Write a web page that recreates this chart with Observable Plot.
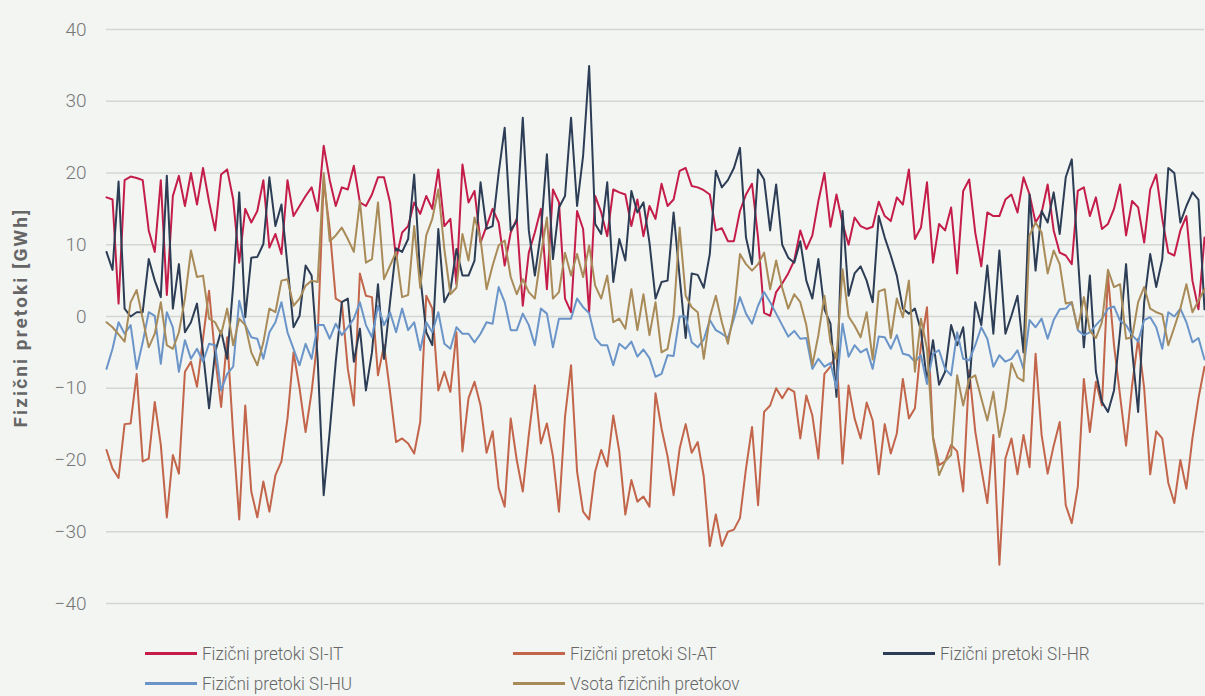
<!DOCTYPE html>
<html>
<head>
<meta charset="utf-8">
<script src="https://cdn.jsdelivr.net/npm/d3@7"></script>
<script src="https://cdn.jsdelivr.net/npm/@observablehq/plot@0.6"></script>
<style>
  html, body { margin: 0; padding: 0; background: #f2f5f2; }
  body { width: 1205px; height: 696px; overflow: hidden; font-family: Roboto, "Noto Sans", sans-serif; }
  #chart svg { display: block; }
  #chart g[aria-label="text"] text { letter-spacing: 2.1px; }
  #legend { display: grid; grid-template-columns: 368px 370px 300px; padding-left: 145px; row-gap: 5px; margin-top: 16px; }
  .item { display: flex; align-items: center; height: 25px; font-size: 19px; font-weight: 300; color: #666; white-space: nowrap; }
  .sw { display: inline-block; flex: none; width: 52px; height: 3px; margin-right: 5px; }
  .lt { display: inline-block; transform: scaleX(0.9); transform-origin: left center; }
</style>
</head>
<body>
<div id="chart"></div>
<div id="legend"></div>
<script>
// Tick labels
const yTicks = [-40, -30, -20, -10, 0, 10, 20, 30, 40];

// Series names and colours
const seriesNames = ["Fizični pretoki SI-IT", "Fizični pretoki SI-AT", "Fizični pretoki SI-HR", "Fizični pretoki SI-HU", "Vsota fizičnih pretokov"];
const seriesColors = ["#c41d4a", "#c2654a", "#2c3d55", "#6b95c8", "#a88b58"];

// Values (GWh), read every second day across the year
const siIT = [
  16.6, 16.3, 1.8, 19, 19.5, 19.3, 19, 12, 9, 19, 3, 16.8, 19.6, 15.4, 20, 15.6, 20.7, 16, 12, 19.8, 20.5, 16.3, 7.5, 15, 13.1, 14.7, 19, 9.6, 11.5, 8.7, 19,
  14, 15.4, 16.8, 18, 14.7, 23.8, 19, 15.4, 18, 17.7, 21, 15.9, 15.4, 17, 19.4, 19.4, 15.9, 8, 11.7, 12.6, 15.9, 14.3, 16.8, 15, 20.5, 12.6, 13.6, 4.5, 21.2, 15.9, 17.5,
  10.3, 12.6, 15, 13.1, 7.1, 11.7, 13.6, 1.5, 8.9, 11.7, 15, 3.8, 17.7, 15.9, 2.5, 0.6, 14.7, 12.2, 0.6, 16.8, 14.5, 11.2, 17.7, 17.3, 17, 12.6, 16.3, 11.2, 15.4, 13.6, 18.5,
  15.4, 16.3, 20.3, 20.7, 18.2, 18, 17.6, 17, 12, 12.3, 10.5, 10.5, 14.7, 17, 18.5, 11, 0.5, 0.1, 3.4, 4.6, 6, 7.8, 12, 9.4, 11.3, 16.1, 20, 12.5, 17, 13, 10,
  13.8, 12.6, 12.2, 12.5, 16, 14, 13.3, 16.6, 15.6, 20.5, 10.8, 12.4, 18.7, 7.5, 12.9, 12, 15.2, 6, 17.5, 19.1, 11.7, 7, 14.5, 14, 14, 16.3, 17, 14.5, 19.4, 17,
  13.1, 14.5, 18.4, 12, 8.9, 8.5, 7.3, 17.5, 18, 14, 16.6, 12.2, 12.9, 15, 18.4, 11.3, 16.1, 15.2, 10.3, 17.7, 19.8, 13.6, 8.9, 8.5, 12, 14, 5, 1, 11
];
const siAT = [
  -18.6, -21.2, -22.5, -15, -14.9, -8, -20.2, -19.8, -11.9, -17.9, -28, -19.3, -21.9, -7.7, -6.3, -9.8, -3.1, 3.6, -5.6, -12.6, -2.9, -16.5, -28.3, -12.4, -24.4, -28, -23, -27.2, -22.1, -20.2, -14.2,
  -5, -10, -16.1, -10.5, -3, 19, 12.2, 2.5, 2, -7.3, -12.4, 6, 2.9, 2.7, -8.2, -4, -10.5, -17.5, -17, -17.7, -19.1, -14.7, 2.9, 1.1, -10.3, -7.7, -10.5, -2.2, -18.8, -11.4, -9.1,
  -12.4, -19, -16, -23.9, -26.5, -14.2, -20, -24.4, -16.5, -9.6, -17.7, -14.9, -19.5, -27.2, -14, -6.8, -21.6, -27.2, -28.3, -21.6, -18.6, -20.9, -13.8, -18.8, -27.6, -22.8, -25.8, -25.1, -26.5, -10.7, -15.6,
  -19.5, -24.9, -18.4, -15, -19, -17.5, -22.3, -32, -27.6, -32, -30, -29.7, -28.1, -21.2, -15.4, -26.3, -13.3, -12.4, -10, -11.4, -10, -10.5, -17, -11, -13.8, -19.8, -8, -7, -5, -20.5, -9.6,
  -14.2, -17, -12, -14.5, -22, -15, -19.1, -16.3, -8.7, -14.2, -12.8, -4, 1.3, -16.8, -20.7, -20.2, -17.9, -18.8, -24.4, -7.5, -16, -21.2, -26, -16.5, -34.6, -19.8, -17, -22, -16.5, -21,
  -5.2, -16.5, -21.9, -18, -14.7, -26.3, -28.8, -23.7, -8.7, -16.1, -9.1, -12.4, 5.7, -4, -11, -18, -9.6, -3.1, -10, -22, -16, -17, -23.2, -26, -20, -24, -17, -11.4, -7
];
const siHR = [
  9, 6.5, 18.8, 1.1, 0, 0.6, 0.6, 8, 5, 2.7, 19.6, 1.1, 7.3, -2.2, -0.8, 1.8, -5, -12.8, -5, -2, -5.9, 4.3, 17.3, -0.1, 8.2, 8.3, 10.1, 19.4, 12.6, 15.6, 7.1,
  -1.5, 0.1, 7.1, 5.7, -5.9, -24.9, -16, -6.3, 2, 2.5, -6.3, -1.7, -10.3, -5, 4.5, -5.9, 2, 9.5, 9, 10.8, 19.8, 5.7, -2.2, -4, 12.2, 2, 3.6, 9.4, 5.7, 5.7, 7.8,
  18.7, 12.2, 12.6, 20, 26.3, 12, 13.3, 27.7, 12, 5.7, 11.7, 22.6, 8, 15.2, 16.8, 27.7, 15.4, 22.4, 34.9, 12.9, 11.5, 18.7, 4.8, 10.8, 7.8, 17.5, 14.5, 15.9, 10.3, 2.5, 4.8,
  5, 14.5, 5.5, -3, 6, 5.8, 4, 8.7, 20.3, 18, 19, 20.7, 23.5, 11, 7.3, 20.5, 19.1, 12, 18.4, 10, 8.2, 7.5, 10.5, 5, 2.5, 8, 1, -1, -11.2, 14.7, 2.9,
  6, 7, 5, 2, 14, 11, 8.5, 5.7, 1.1, 0.4, 1.1, -2, -9, -3.3, -9.5, -7.7, -1.2, -4, -1.5, -10, 2, -1.2, 7.1, -2.4, 9.2, -2.4, 0.1, 2.9, -5, 17,
  6.4, 14.7, 13.1, 17.3, 11.5, 19.4, 21.9, 8.5, -4.3, 5.7, -7.7, -11.9, -13.3, -10.3, -2.2, 7.3, -4.7, -13.3, 2, 8.7, 4.1, 8, 20.7, 20, 13.1, 15.4, 17.3, 16.3, 1
];
const siHU = [
  -7.3, -4.5, -0.8, -2.4, -1.2, -7.3, -3.6, 0.6, 0.1, -6.6, 0.6, -1.5, -7.7, -3.3, -5.9, -4.5, -6.3, -3.8, -4, -10.3, -8, -7, 2.2, -1.2, -2.9, -3.1, -5.9, -2.2, -0.8, 2, -2.2,
  -4.5, -6.8, -3.8, -5.9, -1.2, -1.2, -3.1, -1, -2.6, -1.5, -0.3, 2, -1.2, -2.9, 1.5, -1.2, 0.6, -2.2, 1.1, -1.9, -0.8, -4.7, -0.8, -2.2, 0.6, -3.8, -4.5, -1.5, -2.4, -2.4, -3.6,
  -2.4, -0.8, -1, 4.1, 2, -1.9, -1.9, 0.4, -1.2, -4, 1.1, 0.4, -4.3, -0.3, -0.3, -0.3, 2.5, 1.3, 0.5, -3, -4, -4, -6.8, -3.8, -4.5, -3.5, -5.6, -4.6, -5.8, -8.4, -8,
  -5.4, -5.5, 0, 0, -3.6, -4.3, -3.2, -0.5, -1.9, -2.4, -3, -0.3, 2.7, 0.4, -1, 1.5, 3.4, 2, 0.4, -1.2, -2.8, -2, -3.1, -3, -7.3, -5.9, -7, -6.5, -10, -1, -5.6,
  -4, -5, -4.5, -7.3, -2.8, -2.9, -4.5, -2.6, -5.2, -5.4, -6.3, -5.4, -9.4, -5.2, -4.7, -7.3, -8.2, -2.2, -5.9, -6.1, -4, -1.5, -3.1, -7, -5.4, -6.3, -5.9, -4.7, -7.3, -0.5,
  -1.5, -0.3, -3.1, -0.5, 1, 1.1, 2, -1.9, -2.6, -2.2, -1.2, -0.3, 1.1, 1.4, -0.6, -1.2, -2.6, -3.5, -0.5, -0.1, -1.5, -4.5, 0.6, 0, 1.1, -0.8, -3.6, -3, -6
];
const vsota = [
  -0.8, -1.5, -2.5, -3.5, 2, 3.7, -0.3, -4.3, -2.4, 2, -4, -4.5, -2.2, 2.5, 9.2, 5.5, 5.7, -0.3, -0.8, -2.5, 1.1, -4, -0.3, -1.2, -5, -6.8, -3.6, 1.1, 0.6, 5, 5.2,
  1.5, 2.5, 4.3, 5, 4.8, 20, 10.5, 11.3, 12.4, 10.8, 9, 16.1, 7.5, 8, 15.9, 5.2, 7.1, 9, 2.7, 3, 12.6, 4, 11.3, 13.6, 17.7, 9.4, 3.1, 4, 11.5, 7.8, 13.8,
  10.8, 3.8, 7.1, 9.9, 10.6, 5.5, 3.1, 5.2, 3.4, 2.5, 8.5, 13.8, 2.5, 3.4, 8.9, 5.7, 8.7, 5.5, 9.9, 4.3, 2.5, 5.7, -0.8, -0.3, -1.7, 3.8, -1.9, 3.1, -2.6, 2, -5,
  -4.5, 0.1, 12.4, 2.9, 1.3, 0.6, -5.9, -0.1, 2.9, -0.8, -3.8, 0.6, 8.7, 7.3, 6.4, 7.3, 8.9, 3.8, 7.8, 4, 1.1, 3.1, 2, -1.2, -6.8, -2.6, 2.9, -3.6, -5.9, 6.6, 0,
  -1.3, -2.9, 0.6, -6, 3.5, 3.8, -3, 2.5, -0.1, 5, -7.7, -0.3, -4.5, -17, -22.1, -20.2, -19.3, -8.2, -12.4, -8.7, -8.2, -11.4, -14.5, -10.5, -16.8, -12.8, -6.5, -8.5, -9, 11.3,
  13.1, 11.7, 6, 9.2, 7.3, 1.8, 2, -1.7, 2.7, -2, -3, -0.8, 6.5, 4.1, 4.5, -3.1, -2.9, 2, 4.1, 1.1, 0.6, 0.3, -4, -1.5, 1.1, 4.5, 0.6, 2.2, 3.8
];

const seriesValues = [siIT, siAT, siHR, siHU, vsota];
const rows = [];
seriesValues.forEach((vals, k) => vals.forEach((v, i) => rows.push({day: i * 2, value: v, series: seriesNames[k]})));
const lastDay = (siIT.length - 1) * 2;

const fmt = d => d < 0 ? "\u2212" + Math.abs(d) : String(d);

const chart = Plot.plot({
  width: 1205,
  height: 625,
  marginLeft: 106,
  marginRight: 1,
  marginTop: 29,
  marginBottom: 22,
  style: {background: "transparent", fontFamily: "Roboto, 'Noto Sans', sans-serif", fontSize: "19px", overflow: "visible"},
  x: {domain: [0, lastDay], axis: null},
  y: {domain: [-40, 40], axis: null},
  marks: [
    Plot.gridY(yTicks, {stroke: "#d4d6d4", strokeOpacity: 1, strokeWidth: 1.5}),
    Plot.axisY(yTicks, {tickSize: 0, tickPadding: 20, tickFormat: fmt, label: null, fill: "#777", fontWeight: 300, fontSize: 19}),
    Plot.text(["Fizični pretoki [GWh]"], {frameAnchor: "left", textAnchor: "middle", lineAnchor: "middle", rotate: -90, dx: -86, dy: 1, fontWeight: "bold", fill: "#666", fontSize: 19}),
    ...seriesNames.map((name, k) =>
      Plot.line(rows.filter(r => r.series === name), {x: "day", y: "value", stroke: seriesColors[k], strokeWidth: 2, strokeLinejoin: "round"})
    )
  ]
});
document.getElementById("chart").appendChild(chart);

const legend = document.getElementById("legend");
seriesNames.forEach((name, k) => {
  const item = document.createElement("div");
  item.className = "item";
  item.innerHTML = `<span class="sw" style="background:${seriesColors[k]}"></span><span class="lt">${name}</span>`;
  legend.appendChild(item);
});
</script>
</body>
</html>
